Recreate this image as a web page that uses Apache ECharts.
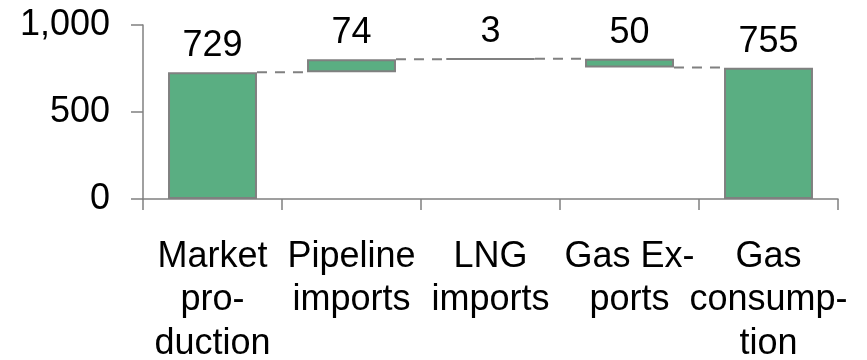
<!DOCTYPE html>
<html>
<head>
<meta charset="utf-8">
<script src="https://cdn.jsdelivr.net/npm/echarts@6/dist/echarts.min.js"></script>
<style>
  html, body { margin: 0; padding: 0; background: #fff; }
  #chart { width: 867px; height: 360px; }
</style>
</head>
<body>
<div id="chart"></div>
<script>
// Gas balance waterfall: production, imports/exports, consumption
const categories = ['Market production', 'Pipeline imports', 'LNG imports', 'Gas Exports', 'Gas consumption'];
const tickLabels = ['Market\npro-\nduction', 'Pipeline\nimports', 'LNG\nimports', 'Gas Ex-\nports', 'Gas\nconsump-\ntion'];
// Signed amounts; 'total' bars start at zero, 'delta' bars float on the running total
const amounts = [729, 74, 3, -50, 755];
const kinds = ['total', 'delta', 'delta', 'delta', 'total'];
const yTicks = [0, 500, 1000];

// Build invisible bases, visible bar heights and the running level after each bar
const bases = [];
const heights = [];
const levels = [];
let running = 0;
amounts.forEach((v, i) => {
  if (kinds[i] === 'total') {
    bases.push(0);
    heights.push(v);
    running = v;
  } else {
    const next = running + v;
    bases.push(Math.min(running, next));
    heights.push(Math.abs(v));
    running = next;
  }
  levels.push(running);
});
const connectors = levels.slice(0, -1).map((lv, i) => [i, lv]);

const BAR_FRAC = 0.64;
const GRAY = '#808080';
const chart = echarts.init(document.getElementById('chart'), null, { renderer: 'canvas' });
chart.setOption({
  animation: false,
  textStyle: { fontFamily: 'Liberation Sans, Arial, sans-serif' },
  grid: {
    left: 143, right: 29, top: 25, bottom: 161,
    containLabel: false,
    outerBoundsMode: 'none'
  },
  xAxis: {
    type: 'category',
    data: categories,
    axisLine: { lineStyle: { color: GRAY, width: 1.5 } },
    axisTick: { show: true, length: 11, lineStyle: { color: GRAY, width: 1.5 } },
    axisLabel: {
      interval: 0,
      margin: 36,
      fontSize: 36,
      lineHeight: 43.5,
      color: '#000',
      align: 'center',
      formatter: (val, idx) => tickLabels[idx]
    }
  },
  yAxis: {
    type: 'value',
    min: yTicks[0],
    max: yTicks[yTicks.length - 1],
    interval: yTicks[1] - yTicks[0],
    splitLine: { show: false },
    axisLine: { show: true, lineStyle: { color: GRAY, width: 1.5 } },
    axisTick: { show: true, length: 12, lineStyle: { color: GRAY, width: 1.5 } },
    axisLabel: {
      margin: 33,
      fontSize: 36,
      color: '#000',
      formatter: v => v.toLocaleString('en-US')
    }
  },
  series: [
    {
      type: 'bar',
      stack: 'flow',
      barWidth: (BAR_FRAC * 100) + '%',
      itemStyle: { color: 'transparent', borderWidth: 0 },
      emphasis: { disabled: true },
      silent: true,
      data: bases
    },
    {
      type: 'bar',
      stack: 'flow',
      barWidth: (BAR_FRAC * 100) + '%',
      itemStyle: { color: '#5aae82', borderColor: GRAY, borderWidth: 2 },
      label: {
        show: true,
        position: 'top',
        distance: 8,
        fontSize: 36,
        color: '#000',
        formatter: p => String(Math.abs(amounts[p.dataIndex]))
      },
      data: heights
    },
    {
      type: 'custom',
      coordinateSystem: 'cartesian2d',
      silent: true,
      z: 1,
      renderItem: (params, api) => {
        const i = api.value(0);
        const lv = api.value(1);
        const p1 = api.coord([i, lv]);
        const p2 = api.coord([i + 1, lv]);
        const half = api.size([1, 0])[0] * BAR_FRAC / 2;
        return {
          type: 'line',
          shape: { x1: p1[0] + half, y1: p1[1], x2: p2[0] - half, y2: p2[1] },
          style: { stroke: GRAY, lineWidth: 2, lineDash: [10, 8] }
        };
      },
      data: connectors
    }
  ]
});
</script>
</body>
</html>
